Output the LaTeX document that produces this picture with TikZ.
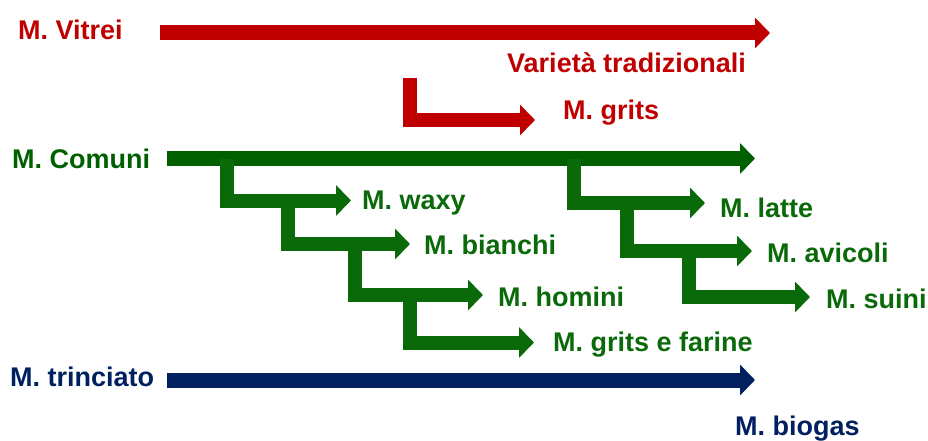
\documentclass[tikz,border=0pt]{standalone}
\usepackage{fontspec}
\setmainfont{Liberation Sans}
\usetikzlibrary{arrows.meta}
\definecolor{vred}{HTML}{C00000}
\definecolor{cgreen}{HTML}{006000}
\definecolor{bgreen}{HTML}{0A6A0A}
\definecolor{tnavy}{HTML}{002060}
\tikzset{
  lbl/.style={anchor=base west, inner sep=0pt, font=\fontsize{27}{27}\selectfont\bfseries},
  bar/.style={line width=15pt, -{Triangle[width=30pt,length=15pt]}},
  branch/.style={line width=14pt, miter limit=10, line join=miter, -{Triangle[width=30pt,length=15pt]}, draw=bgreen},
}
\begin{document}
\begin{tikzpicture}[x=1pt,y=-1pt]
\useasboundingbox (0,0) rectangle (928,441);

% labels
\node[lbl, text=vred] (vit) at (18,40) {M. Vitrei};
\node[lbl, text=vred] (trad) at (507,73) {Varietà tradizionali};
\node[lbl, text=vred] (gri) at (563,120) {M. grits};
\node[lbl, text=cgreen] (com) at (12,168) {M. Comuni};
\node[lbl, text=bgreen] (wax) at (362,209) {M. waxy};
\node[lbl, text=bgreen] (bia) at (424,254) {M. bianchi};
\node[lbl, text=bgreen] (hom) at (498,306) {M. homini};
\node[lbl, text=bgreen] (gef) at (553,351) {M. grits e farine};
\node[lbl, text=bgreen] (lat) at (720,217) {M. latte};
\node[lbl, text=bgreen] (avi) at (767,262) {M. avicoli};
\node[lbl, text=bgreen] (sui) at (826,308) {M. suini};
\node[lbl, text=tnavy] (tri) at (10,386) {M. trinciato};
\node[lbl, text=tnavy] (bio) at (735,435) {M. biogas};

% arrow anchor points
\coordinate (r0) at (160,33);   \coordinate (r1) at (770,33);
\coordinate (g0) at (167,158.5); \coordinate (g1) at (755,158.5);
\coordinate (n0) at (167,380);  \coordinate (n1) at (755,380);

% main lines
\draw[bar, draw=vred] (r0) -- (r1);
\draw[bar, draw=cgreen] (g0) -- (g1);
\draw[bar, draw=tnavy] (n0) -- (n1);

% red branch
\draw[branch, draw=vred] (409.5,78) -- (409.5,120) -- (535,120);

% green branches, left cascade
\draw[branch] (226.5,158.5) -- (226.5,200.5) -- (351,200.5);
\draw[branch] (287.5,200.5) -- (287.5,244) -- (410,244);
\draw[branch] (354.5,244) -- (354.5,295) -- (483,295);
\draw[branch] (409.5,295) -- (409.5,342.5) -- (534,342.5);

% green branches, right cascade
\draw[branch] (574,158.5) -- (574,203) -- (705,203);
\draw[branch] (626.5,203) -- (626.5,251) -- (752,251);
\draw[branch] (688.5,251) -- (688.5,297) -- (810,297);
\end{tikzpicture}
\end{document}
